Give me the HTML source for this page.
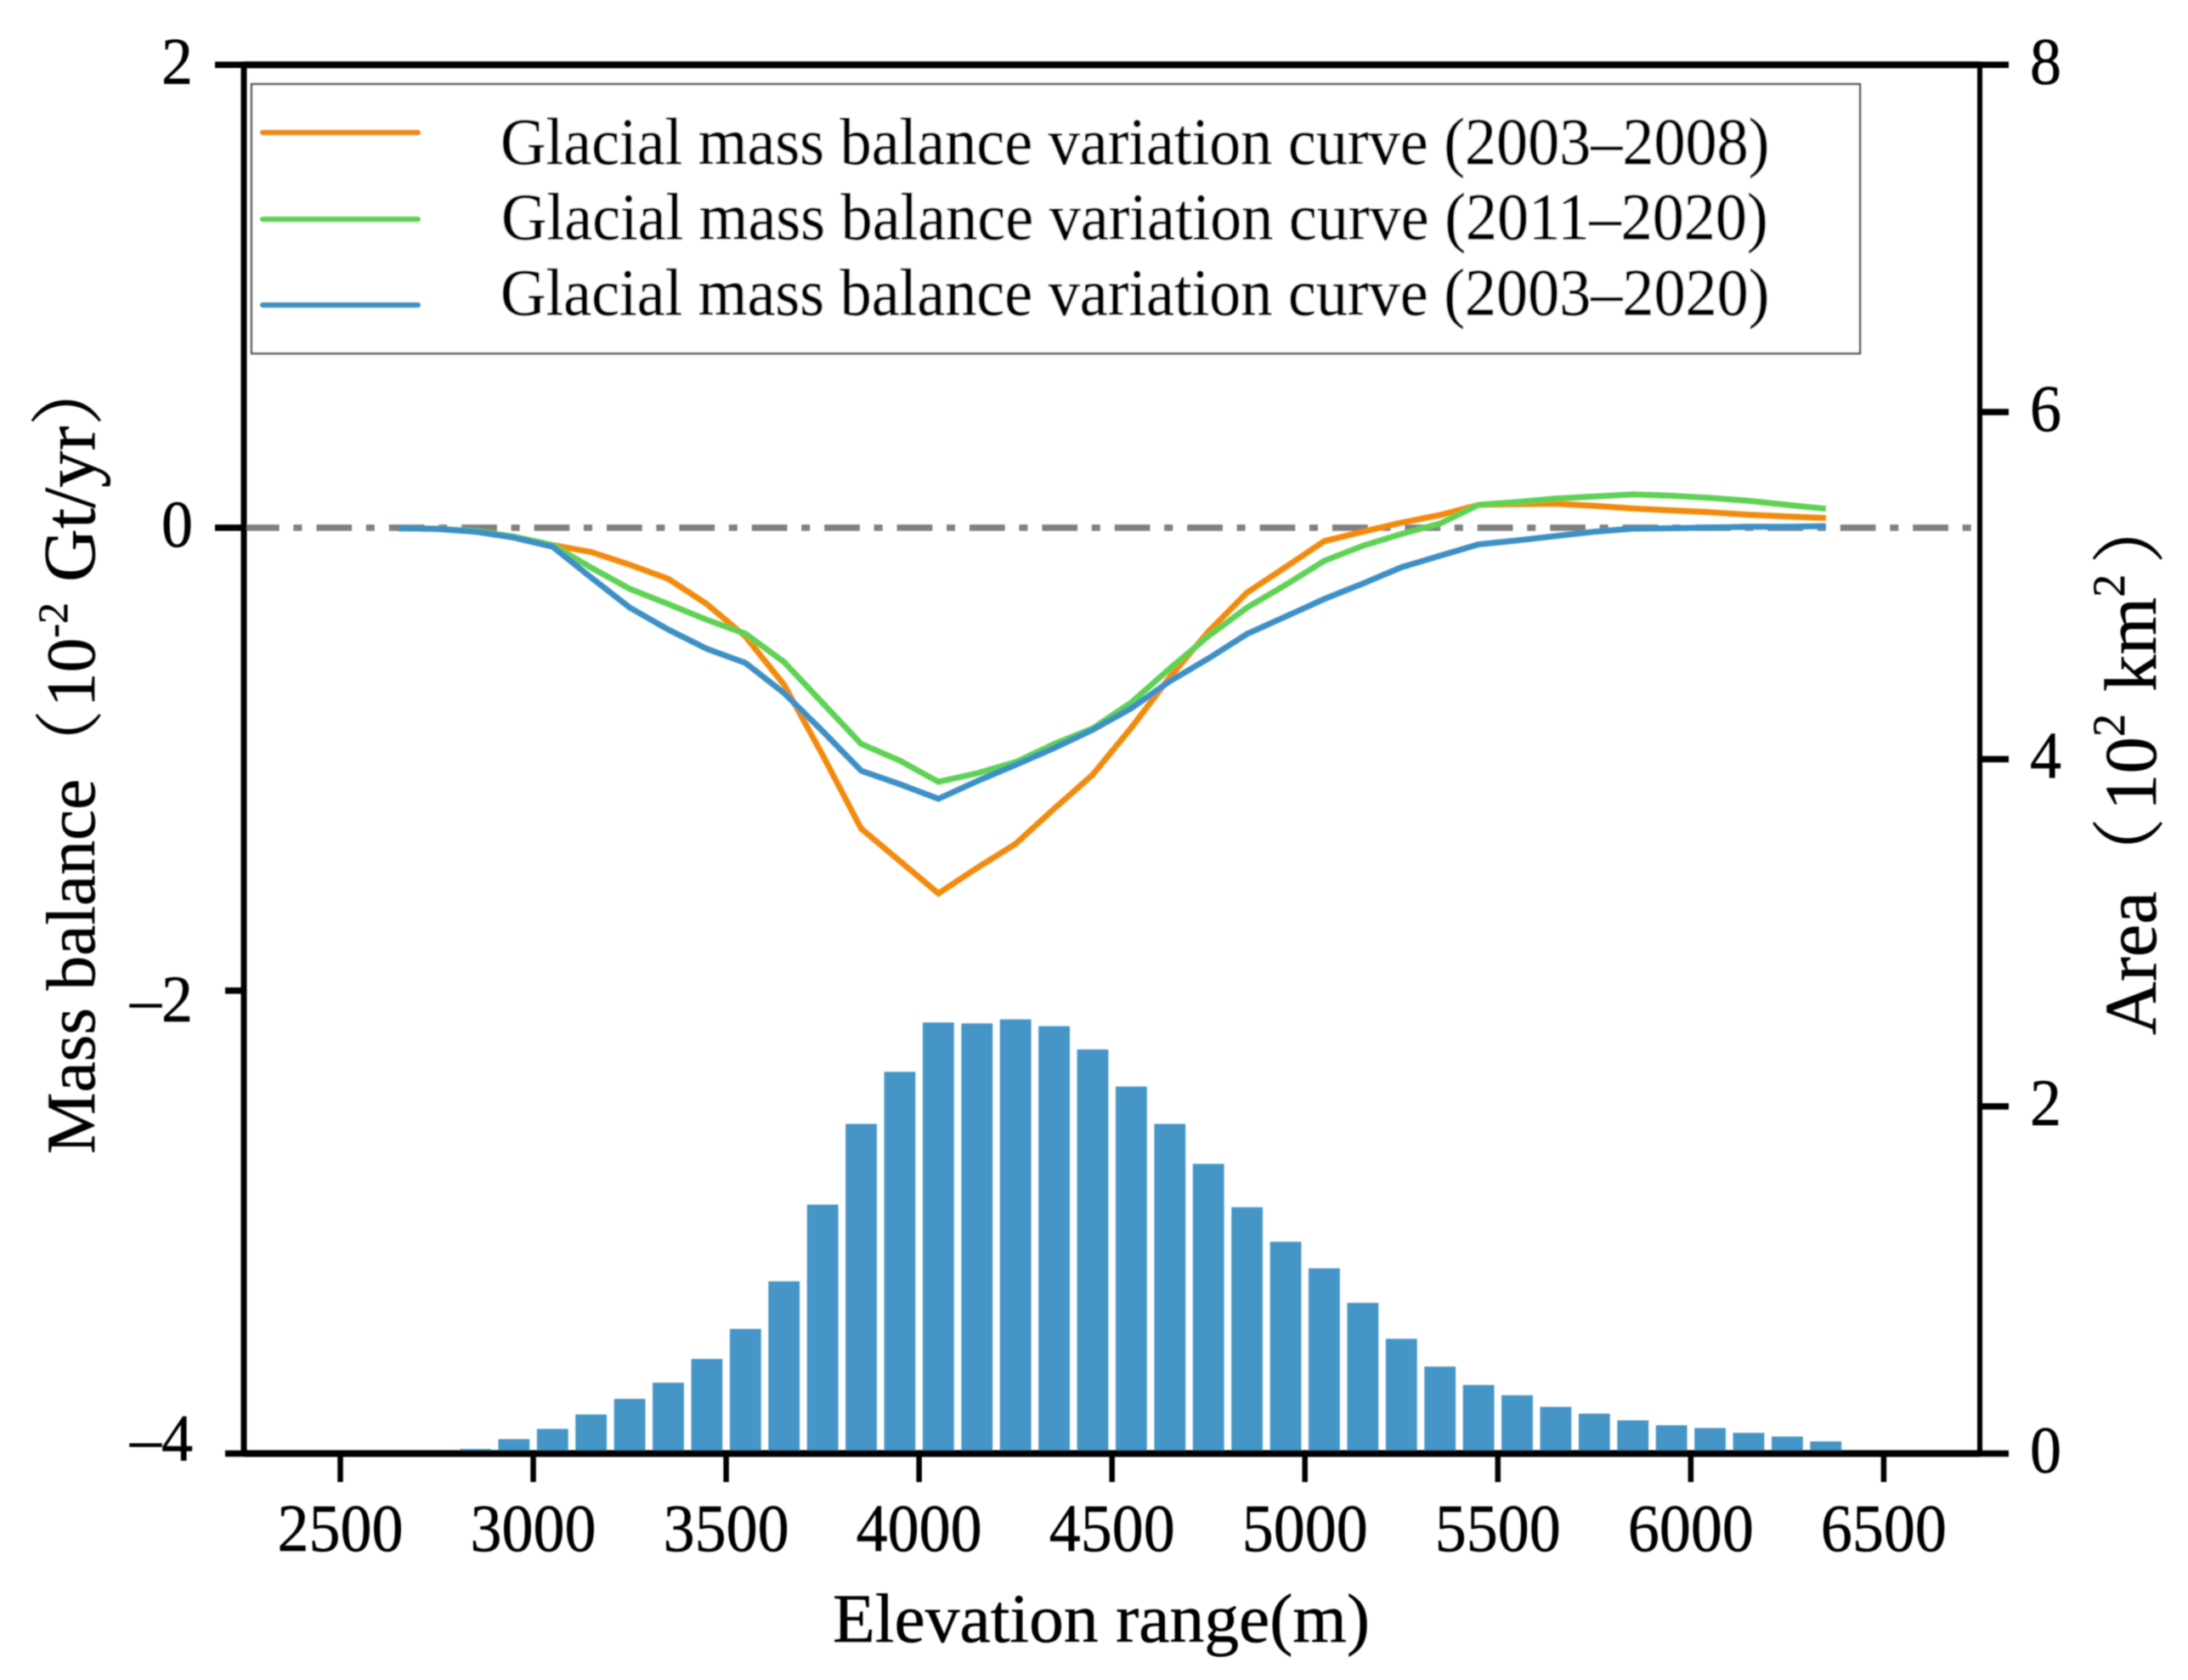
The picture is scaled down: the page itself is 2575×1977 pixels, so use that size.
<!DOCTYPE html>
<html lang="en">
<head>
<meta charset="utf-8">
<title>Glacial mass balance and area by elevation</title>
<style>
html,body{margin:0;padding:0;background:#fff;width:2575px;height:1977px;overflow:hidden}
svg{display:block}
text{font-family:"Liberation Serif","Noto Serif CJK SC",serif;fill:#000;stroke:#000;stroke-width:0.5px}
</style>
</head>
<body>
<svg id="chart" xmlns="http://www.w3.org/2000/svg" width="2575" height="1977" viewBox="0 0 2575 1977">
  <defs><filter id="soft" x="-2%" y="-2%" width="104%" height="104%"><feGaussianBlur stdDeviation="0.8"/></filter></defs>
  <g id="root" filter="url(#soft)"></g>
</svg>
<script>
const elevations = [2650,2750,2850,2950,3050,3150,3250,3350,3450,3550,3650,3750,3850,3950,4050,4150,4250,4350,4450,4550,4650,4750,4850,4950,5050,5150,5250,5350,5450,5550,5650,5750,5850,5950,6050,6150,6250,6350];
const massBalance2003to2008 = [-0.002,-0.005,-0.015,-0.04,-0.075,-0.105,-0.16,-0.221,-0.33,-0.47,-0.678,-0.982,-1.3,-1.44,-1.58,-1.47,-1.366,-1.214,-1.067,-0.864,-0.645,-0.449,-0.28,-0.17,-0.058,-0.017,0.022,0.055,0.099,0.102,0.104,0.095,0.083,0.075,0.067,0.056,0.049,0.042];
const massBalance2011to2020 = [-0.002,-0.005,-0.014,-0.038,-0.075,-0.172,-0.264,-0.33,-0.398,-0.458,-0.58,-0.757,-0.934,-1.006,-1.098,-1.061,-1.013,-0.934,-0.867,-0.755,-0.608,-0.468,-0.345,-0.247,-0.143,-0.078,-0.027,0.018,0.099,0.111,0.126,0.135,0.144,0.138,0.129,0.116,0.099,0.082];
const massBalance2003to2020 = [-0.002,-0.005,-0.017,-0.043,-0.082,-0.215,-0.345,-0.44,-0.523,-0.584,-0.714,-0.879,-1.05,-1.108,-1.171,-1.095,-1.025,-0.952,-0.873,-0.78,-0.663,-0.565,-0.459,-0.384,-0.308,-0.241,-0.171,-0.121,-0.072,-0.055,-0.036,-0.017,-0.004,-0.002,0.001,0.004,0.004,0.007];
const barElevations = [2850,2950,3050,3150,3250,3350,3450,3550,3650,3750,3850,3950,4050,4150,4250,4350,4450,4550,4650,4750,4850,4950,5050,5150,5250,5350,5450,5550,5650,5750,5850,5950,6050,6150,6250,6350];
const areaValues = [0.026,0.083,0.142,0.225,0.315,0.408,0.545,0.718,0.992,1.434,1.899,2.199,2.483,2.478,2.501,2.462,2.328,2.114,1.899,1.669,1.419,1.22,1.067,0.868,0.661,0.501,0.395,0.336,0.269,0.23,0.191,0.163,0.147,0.119,0.098,0.07];
const xTicks = [2500,3000,3500,4000,4500,5000,5500,6000,6500];
const leftTicks = [2,0,-2,-4];
const rightTicks = [8,6,4,2,0];
const legendLabels = ["Glacial mass balance variation curve (2003\u20132008)","Glacial mass balance variation curve (2011\u20132020)","Glacial mass balance variation curve (2003\u20132020)"];

const NS = "http://www.w3.org/2000/svg";
const root = document.getElementById("root");
const plotLeft = 287, plotRight = 2330, plotTop = 76.3, plotBottom = 1710.5;
const xScale = v => 400.5 + (v - 2500) * 0.4541;
const yLeft = v => plotBottom - (v + 4) * (plotBottom - plotTop) / 6;
const yRight = v => plotBottom - v * (plotBottom - plotTop) / 8;
const leftLabelDrop = v => v === -2 ? 36 : v === -4 ? 8.5 : 22;

function make(tag, attrs, parent) {
  const el = document.createElementNS(NS, tag);
  for (const k in attrs) el.setAttribute(k, attrs[k]);
  (parent || root).appendChild(el);
  return el;
}
function scaledText(str, x, y, size, anchor, sy) {
  const el = make("text", {transform: "translate(" + x + "," + y + ") scale(1," + sy + ")", "font-size": size, "text-anchor": anchor});
  el.textContent = str;
  return el;
}

/* bars */
barElevations.forEach((e, i) => {
  const top = yRight(areaValues[i]);
  const bar = make("rect", {x: xScale(e) - 18.4, y: top, width: 36.8, height: plotBottom - top, fill: "#4595c6"});
  
  
});

/* zero reference line */
const zeroLine = make("line", {x1: plotLeft, x2: plotRight - 6, y1: yLeft(0), y2: yLeft(0), stroke: "#808080", "stroke-width": 7.5, "stroke-dasharray": "41.7 16.7 10 17"});



/* series */
function drawSeries(values, color, width) {
  const pts = elevations.map((e, i) => xScale(e).toFixed(1) + "," + yLeft(values[i]).toFixed(1)).join(" ");
  return make("polyline", {points: pts, fill: "none", stroke: color, "stroke-width": width, "stroke-linejoin": "miter"});
}
const lineA = drawSeries(massBalance2003to2008, "#f28a0c", 7);


const lineB = drawSeries(massBalance2011to2020, "#5ed155", 7);


const lineC = drawSeries(massBalance2003to2020, "#3c90c4", 7);



/* spines */
const spineTop = make("line", {x1: plotLeft, x2: plotRight, y1: plotTop, y2: plotTop, stroke: "#000", "stroke-width": 8});


const spineBottom = make("line", {x1: plotLeft, x2: plotRight, y1: plotBottom, y2: plotBottom, stroke: "#000", "stroke-width": 8});


const spineLeft = make("line", {x1: plotLeft, x2: plotLeft, y1: plotTop, y2: plotBottom, stroke: "#000", "stroke-width": 7});


const spineRight = make("line", {x1: plotRight, x2: plotRight, y1: plotTop, y2: plotBottom, stroke: "#000", "stroke-width": 6});



/* x axis */
xTicks.forEach(v => {
  const t = make("line", {x1: xScale(v), x2: xScale(v), y1: plotBottom, y2: 1744, stroke: "#000", "stroke-width": 6.5});
  
  
  const l = scaledText(String(v), xScale(v), 1825, 74, "middle", 1.07);
  
  
});

/* left axis */
leftTicks.forEach(v => {
  const t = make("line", {x1: v >= 0 ? 253 : 265, x2: plotLeft, y1: yLeft(v), y2: yLeft(v), stroke: "#000", "stroke-width": 7.5});
  
  
  const txt = v < 0 ? "\u2013" + Math.abs(v) : String(v);
  const l = scaledText(txt, 227, yLeft(v) + leftLabelDrop(v), 74, "end", 1.06);
  
  
});

/* right axis */
rightTicks.forEach(v => {
  const t = make("line", {x1: plotRight, x2: 2364, y1: yRight(v), y2: yRight(v), stroke: "#000", "stroke-width": 7.5});
  
  
  const l = scaledText(String(v), 2389, yRight(v) + 22, 74, "start", 1.06);
  
  
});

/* legend */
const legendBox = make("rect", {x: 296, y: 99, width: 1893, height: 317, fill: "#fff", stroke: "#555", "stroke-width": 2.4});


const legendColors = ["#f28a0c", "#5ed155", "#3c90c4"];
const legendHandleY = [156, 258, 359];
const legendTextY = [193, 281.5, 370.5];
const legendTextX = [589, 590, 589];
legendLabels.forEach((label, i) => {
  const h = make("line", {x1: 309, x2: 492, y1: legendHandleY[i], y2: legendHandleY[i], stroke: legendColors[i], "stroke-width": 6.5, "stroke-linecap": "round"});
  
  
  const l = scaledText(label, legendTextX[i], legendTextY[i], 74.2, "start", 1.05);
  
  
});

/* axis titles */
const xTitle = make("text", {x: 980, y: 1932, "font-size": 81.6});
xTitle.textContent = "Elevation range(m)";



function rotatedTitle(x, y) {
  return make("text", {transform: "translate(" + x + "," + y + ") rotate(-90)", "font-size": 81.5});
}
function addSpan(parent, str, attrs) {
  const s = make("tspan", attrs || {}, parent);
  s.textContent = str;
  return s;
}
const leftTitle = rotatedTitle(111, 1358);


addSpan(leftTitle, "Mass balance");
addSpan(leftTitle, "\uFF08");
addSpan(leftTitle, "10", {dx: 3});
addSpan(leftTitle, "-2", {dy: -32, "font-size": 50});
addSpan(leftTitle, "Gt/yr", {x: 673, dy: 32, "font-size": 87});
addSpan(leftTitle, "\uFF09", {"font-size": 87});

const rightTitle = rotatedTitle(2537, 1218);
rightTitle.setAttribute('font-size', '87');


addSpan(rightTitle, "Area");
addSpan(rightTitle, "\uFF08");
addSpan(rightTitle, "10", {dx: 8});
addSpan(rightTitle, "2", {dy: -37, "font-size": 54});
addSpan(rightTitle, "km", {dx: 26, dy: 37});
addSpan(rightTitle, "2", {dy: -37, "font-size": 54});
addSpan(rightTitle, "\uFF09", {dy: 37, dx: 12});
</script>
</body>
</html>
